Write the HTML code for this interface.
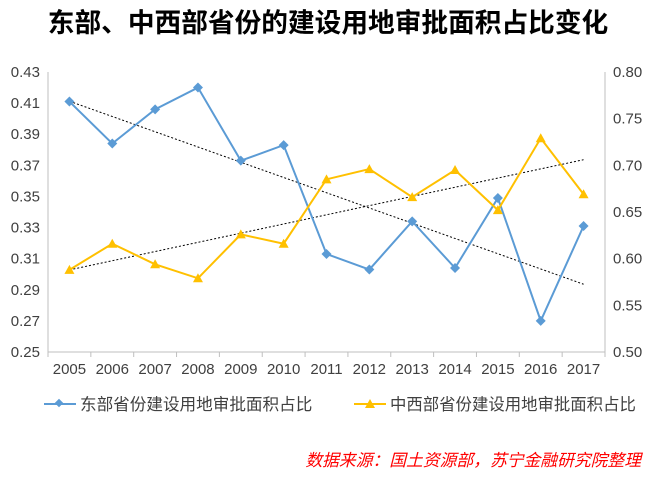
<!DOCTYPE html>
<html><head><meta charset="utf-8"><style>
body{margin:0;background:#fff;}
svg text{font-family:"Liberation Sans","Noto Sans CJK SC",sans-serif;}
</style></head><body>
<svg id="chart" width="654" height="472" xmlns="http://www.w3.org/2000/svg">
<text x="328" y="32" text-anchor="middle" font-size="26.7" font-weight="bold" fill="#000">东部、中西部省份的建设用地审批面积占比变化</text>
<g id="axes"></g>
<g id="marks"></g>
<g>
<line x1="44" y1="404" x2="76" y2="404" stroke="#5B9BD5" stroke-width="2"/>
<rect x="56" y="400" width="6" height="6" fill="#5B9BD5" transform="rotate(45 59 403)"/>
<text x="80" y="410" font-size="16.6" fill="#404040">东部省份建设用地审批面积占比</text>
<line x1="354" y1="404" x2="386" y2="404" stroke="#FFC000" stroke-width="2"/>
<polygon points="370,399 375,408 365,408" fill="#FFC000"/>
<text x="390" y="410" font-size="16.4" fill="#404040">中西部省份建设用地审批面积占比</text>
</g>
<text x="641" y="466" text-anchor="end" font-size="16.8" font-style="italic" fill="#FF0000">数据来源：国土资源部，苏宁金融研究院整理</text>
</svg>
<script>
const years=["2005","2006","2007","2008","2009","2010","2011","2012","2013","2014","2015","2016","2017"];
const eastValues=[0.411,0.384,0.406,0.420,0.373,0.383,0.313,0.303,0.334,0.304,0.349,0.270,0.331];
const midwestValues=[0.588,0.616,0.594,0.579,0.626,0.616,0.685,0.696,0.666,0.695,0.652,0.729,0.669];
const leftTicks=["0.25","0.27","0.29","0.31","0.33","0.35","0.37","0.39","0.41","0.43"];
const rightTicks=["0.50","0.55","0.60","0.65","0.70","0.75","0.80"];
const NS="http://www.w3.org/2000/svg";
const L=48,R=605,T=72,B=352;
const bw=(R-L)/years.length;
const x=i=>L+bw*(i+0.5);
const yL=v=>B-(v-0.25)/0.18*(B-T);
const yR=v=>B-(v-0.5)/0.3*(B-T);
function mk(tag,attrs,parent){const e=document.createElementNS(NS,tag);for(const k in attrs)e.setAttribute(k,attrs[k]);parent.appendChild(e);return e;}
const ax=document.getElementById('axes'),mg=document.getElementById('marks');
let e=mk('line',{x1:L,y1:T,x2:L,y2:B,stroke:'#bfbfbf'},ax);


e=mk('line',{x1:R,y1:T,x2:R,y2:B,stroke:'#bfbfbf'},ax);


e=mk('line',{x1:L,y1:B,x2:R,y2:B,stroke:'#bfbfbf'},ax);


leftTicks.forEach(t=>{const tx=mk('text',{x:L-8,y:yL(+t)+5,'text-anchor':'end','font-size':'15',fill:'#404040'},ax);tx.textContent=t;

});
rightTicks.forEach(t=>{const tx=mk('text',{x:R+8,y:yR(+t)+5,'font-size':'15',fill:'#404040'},ax);tx.textContent=t;

});
for(let i=0;i<=years.length;i++){mk('line',{x1:L+bw*i,y1:B,x2:L+bw*i,y2:B+5,stroke:'#bfbfbf'},ax);}
years.forEach((yv,i)=>{const tx=mk('text',{x:x(i),y:B+22,'text-anchor':'middle','font-size':'15',fill:'#404040'},ax);tx.textContent=yv;

});
function trend(vals,fy,name){const n=vals.length;let sx=0,sy=0,sxy=0,sxx=0;vals.forEach((v,i)=>{sx+=i;sy+=v;sxy+=i*v;sxx+=i*i;});
const b=(n*sxy-sx*sy)/(n*sxx-sx*sx),a=(sy-b*sx)/n;
const l=mk('line',{x1:x(0),y1:fy(a),x2:x(n-1),y2:fy(a+b*(n-1)),stroke:'#000','stroke-width':'1','stroke-dasharray':'2,2'},mg);

}
trend(eastValues,yL,'east-trendline');
trend(midwestValues,yR,'midwest-trendline');
function series(vals,fy,color,name,marker){
const p=mk('polyline',{points:vals.map((v,i)=>x(i)+','+fy(v)).join(' '),fill:'none',stroke:color,'stroke-width':'2'},mg);


vals.forEach((v,i)=>{const cx=x(i),cy=fy(v);let m;
if(marker==='d'){m=mk('polygon',{points:`${cx},${cy-5} ${cx+5},${cy} ${cx},${cy+5} ${cx-5},${cy}`,fill:color},mg);}
else{m=mk('polygon',{points:`${cx},${cy-5} ${cx+5},${cy+4} ${cx-5},${cy+4}`,fill:color},mg);}

});}
series(eastValues,yL,'#5B9BD5','east','d');
series(midwestValues,yR,'#FFC000','midwest','t');
</script>
</body></html>
